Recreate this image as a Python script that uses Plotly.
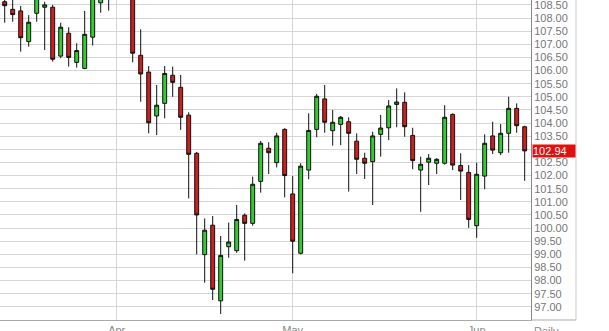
import plotly.graph_objects as go

# Daily candles (index = trading day position)
opens = [108.62, 108.33, 108.27, 107.10, 108.18, 108.41, 108.41, 106.55, 107.42, 106.31,
         106.08, 107.27, 108.58, 108.95, 109.10, 109.30, 108.95, 106.58, 105.94, 104.27,
         104.75, 105.82, 105.36, 104.30, 102.85, 98.99, 100.11, 97.23, 99.29, 99.14,
         100.49, 100.18, 101.78, 103.04, 102.49, 103.76, 101.30, 99.04, 102.21, 103.76,
         104.92, 103.71, 103.95, 104.05, 103.31, 102.66, 102.53, 103.57, 103.82, 104.71,
         104.79, 103.53, 102.21, 102.51, 102.47, 102.47, 104.33, 102.38, 102.12, 100.09,
         101.98, 103.51, 102.87, 103.61, 104.56, 103.86]
highs = [108.85, 108.75, 108.46, 108.11, 108.95, 108.62, 108.50, 107.82, 107.65, 107.04,
         108.27, 108.95, 109.00, 109.25, 109.40, 109.45, 109.05, 107.57, 106.17, 105.45,
         106.17, 106.15, 105.83, 104.41, 102.90, 100.37, 100.46, 99.70, 100.21, 100.88,
         100.56, 101.96, 103.32, 103.27, 103.63, 103.80, 101.98, 102.47, 104.37, 105.11,
         105.45, 104.50, 104.27, 104.22, 103.61, 102.87, 103.67, 104.31, 104.88, 105.32,
         105.17, 103.82, 102.72, 102.82, 102.66, 104.68, 104.37, 102.85, 102.40, 102.49,
         103.57, 104.05, 103.96, 105.00, 104.75, 103.90]
lows = [107.82, 107.86, 106.72, 106.91, 107.86, 106.78, 106.34, 106.47, 106.15, 106.11,
        106.05, 106.95, 108.20, 108.28, 108.80, 108.85, 106.31, 104.81, 103.61, 103.54,
        104.18, 105.00, 103.74, 101.13, 99.00, 97.92, 97.26, 96.73, 98.87, 99.06,
        98.76, 100.09, 101.35, 102.06, 102.31, 101.17, 98.28, 99.00, 101.86, 103.46,
        103.63, 103.14, 103.16, 101.39, 102.06, 101.87, 100.88, 102.72, 103.35, 103.84,
        103.48, 102.24, 100.62, 101.64, 102.06, 102.42, 102.21, 101.07, 100.01, 99.63,
        101.48, 102.82, 102.78, 102.87, 103.63, 101.80]
closes = [108.47, 108.13, 107.25, 107.84, 108.80, 108.50, 106.43, 107.65, 106.50, 106.76,
          107.38, 108.80, 108.85, 109.10, 109.30, 108.95, 106.66, 105.87, 104.01, 104.68,
          105.89, 105.55, 104.22, 102.81, 100.50, 99.92, 97.67, 98.96, 99.47, 100.33,
          100.18, 101.67, 103.23, 102.87, 103.51, 102.00, 99.50, 102.36, 103.72, 105.02,
          104.03, 104.03, 104.22, 103.61, 102.62, 102.47, 103.51, 103.81, 104.65, 104.80,
          103.86, 102.57, 102.43, 102.66, 102.62, 104.22, 102.40, 102.17, 100.33, 102.05,
          103.23, 102.97, 103.61, 104.56, 103.90, 102.94]

month_idx = [14, 36, 59]
month_labels = ["Apr", "May", "Jun"]
y_ticks = [97.0 + 0.5 * k for k in range(24)]
last_price = "102.94"

x = list(range(len(opens)))

# the 103.00 label sits under the last-price badge in the reference
y_text = ["" if abs(v - 103.0) < 1e-9 else "%.2f" % v for v in y_ticks]

fig = go.Figure()
fig.add_trace(go.Candlestick(
    x=x, open=opens, high=highs, low=lows, close=closes,
    increasing=dict(fillcolor="#33cc33", line=dict(color="#111111", width=1)),
    decreasing=dict(fillcolor="#cc1f1f", line=dict(color="#111111", width=1)),
    whiskerwidth=0, hoverinfo="skip", showlegend=False,
))

fig.update_layout(
    width=609, height=331,
    margin=dict(l=0, r=78, t=0, b=11, autoexpand=False),
    paper_bgcolor="white", plot_bgcolor="white",
    font=dict(family="Arial, Liberation Sans, sans-serif", size=11, color="#777777"),
    xaxis=dict(
        range=[-0.5875, 65.79], rangeslider=dict(visible=False),
        tickmode="array", tickvals=month_idx, ticktext=month_labels,
        showgrid=True, gridcolor="#d6d6d6", gridwidth=1,
        showline=True, linecolor="#aaaaaa", linewidth=1,
        ticks="", zeroline=False, fixedrange=True, automargin=False,
        ticklabeloverflow="allow",
        tickfont=dict(size=11, color="#888888"),
    ),
    yaxis=dict(
        range=[96.5, 108.686], side="right",
        tickmode="array", tickvals=y_ticks, ticktext=y_text,
        showgrid=True, gridcolor="#d6d6d6", gridwidth=1,
        showline=True, linecolor="#888888", linewidth=1,
        ticks="", zeroline=False, fixedrange=True, automargin=False,
        ticklabeloverflow="allow",
        tickfont=dict(size=11, color="#777777"),
    ),
    shapes=[
        dict(type="line", xref="paper", yref="paper", x0=1.0847, x1=1.0847, y0=0, y1=1,
             line=dict(color="#cccccc", width=1)),
        dict(type="line", xref="paper", yref="paper", x0=1.0, x1=1.0847, y0=0, y1=0,
             line=dict(color="#aaaaaa", width=1)),
    ],
    annotations=[
        dict(xref="paper", yref="y", x=1.0, y=float(last_price), text=last_price,
             showarrow=False, xanchor="left", yanchor="middle", xshift=1,
             bgcolor="#e01010", font=dict(color="white", size=11), width=42,
             height=12, borderpad=0, align="left"),
        dict(xref="paper", yref="paper", x=1.030, y=0, text="Daily", showarrow=False,
             xanchor="center", yanchor="top", yshift=-3,
             font=dict(color="#888888", size=11)),
    ],
)

fig.write_html("out.html")
